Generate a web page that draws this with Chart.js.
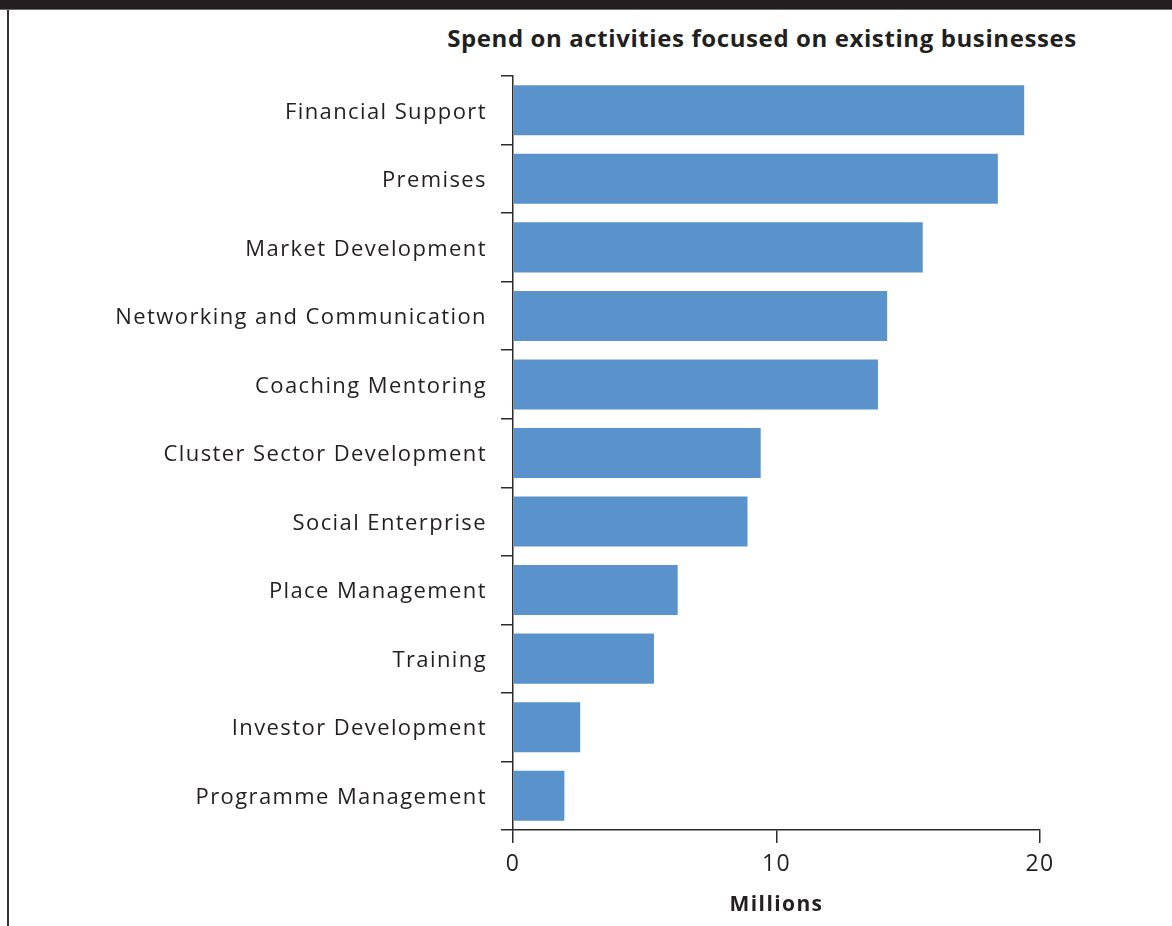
<!DOCTYPE html>
<html>
<head>
<meta charset="utf-8">
<script src="https://cdn.jsdelivr.net/npm/chart.js@4.4.1/dist/chart.umd.min.js"></script>
<style>
  body { margin: 0; background: #fff; }
  #wrap { position: relative; width: 1172px; height: 926px; overflow: hidden; }
  #topbar { position: absolute; left: 0; top: 0; width: 1172px; height: 9px; background: #231f20; border-bottom: 1px solid #6d6d6d; }
  #leftline { position: absolute; left: 7px; top: 10px; width: 2px; height: 916px; background: #333; }
  #title { position: absolute; left: 362px; top: 21px; width: 800px; text-align: center;
           font: bold 24px "Open Sans", "Noto Sans", sans-serif; letter-spacing: 0.6px; color: #231f20; }
  #chart { position: absolute; left: 10px; top: 10px; }
</style>
</head>
<body>
<div id="wrap">
  <div id="topbar"></div>
  <div id="leftline"></div>
  <div id="title">Spend on activities focused on existing businesses</div>
  <canvas id="chart" width="1162" height="916"></canvas>
</div>
<script>
// categories (top to bottom)
const activities = [
    'Financial Support',
    'Premises',
    'Market Development',
    'Networking and Communication',
    'Coaching Mentoring',
    'Cluster Sector Development',
    'Social Enterprise',
    'Place Management',
    'Training',
    'Investor Development',
    'Programme Management'
];
// spend, in millions
const spend = [19.4, 18.4, 15.55, 14.2, 13.85, 9.4, 8.9, 6.25, 5.35, 2.55, 1.95];
const xTicks = [0, 10, 20];

const textColor = '#231f20';
const lineColor = '#2b2b2b';
const fontFamily = '"Open Sans", "Noto Sans", sans-serif';

// the source font is wider than Open Sans, so space the letters out a bit
const spacing = {
    id: 'spacing',
    beforeDraw: function(chart) { chart.ctx.letterSpacing = '1.4px'; }
};

new Chart(document.getElementById('chart'), {
    type: 'bar',
    data: {
        labels: activities,
        datasets: [{
            label: 'Spend',
            data: spend,
            backgroundColor: '#5a93cb',
            borderWidth: 0,
            categoryPercentage: 1,
            barPercentage: 0.73
        }]
    },
    options: {
        indexAxis: 'y',
        responsive: false,
        animation: false,
        layout: { padding: { top: 66, right: 132, bottom: 0, left: 0 } },
        plugins: {
            legend: { display: false },
            tooltip: { enabled: false }
        },
        scales: {
            y: {
                afterFit: function(scale) { scale.width = 503; },
                grid: {
                    offset: true,
                    drawOnChartArea: false,
                    drawTicks: true,
                    tickLength: 12,
                    color: lineColor,
                    lineWidth: 1.5
                },
                border: { display: true, color: lineColor, width: 1.5 },
                ticks: {
                    padding: 14,
                    labelOffset: 2,
                    color: textColor,
                    font: { family: fontFamily, size: 22 }
                }
            },
            x: {
                min: 0,
                max: 20,
                afterFit: function(scale) { scale.height = 96; },
                afterBuildTicks: function(scale) {
                    scale.ticks = xTicks.map(function(v) { return { value: v }; });
                },
                grid: {
                    drawOnChartArea: false,
                    drawTicks: true,
                    tickLength: 13,
                    color: lineColor,
                    lineWidth: 1.5
                },
                border: { display: true, color: lineColor, width: 1.5 },
                ticks: {
                    padding: 8,
                    maxRotation: 0,
                    color: textColor,
                    font: { family: fontFamily, size: 23 }
                },
                title: {
                    display: true,
                    text: 'Millions',
                    color: textColor,
                    font: { family: fontFamily, size: 21, weight: 'bold' },
                    padding: { top: 0, bottom: 8 }
                }
            }
        }
    },
    plugins: [spacing]
});
</script>
</body>
</html>
